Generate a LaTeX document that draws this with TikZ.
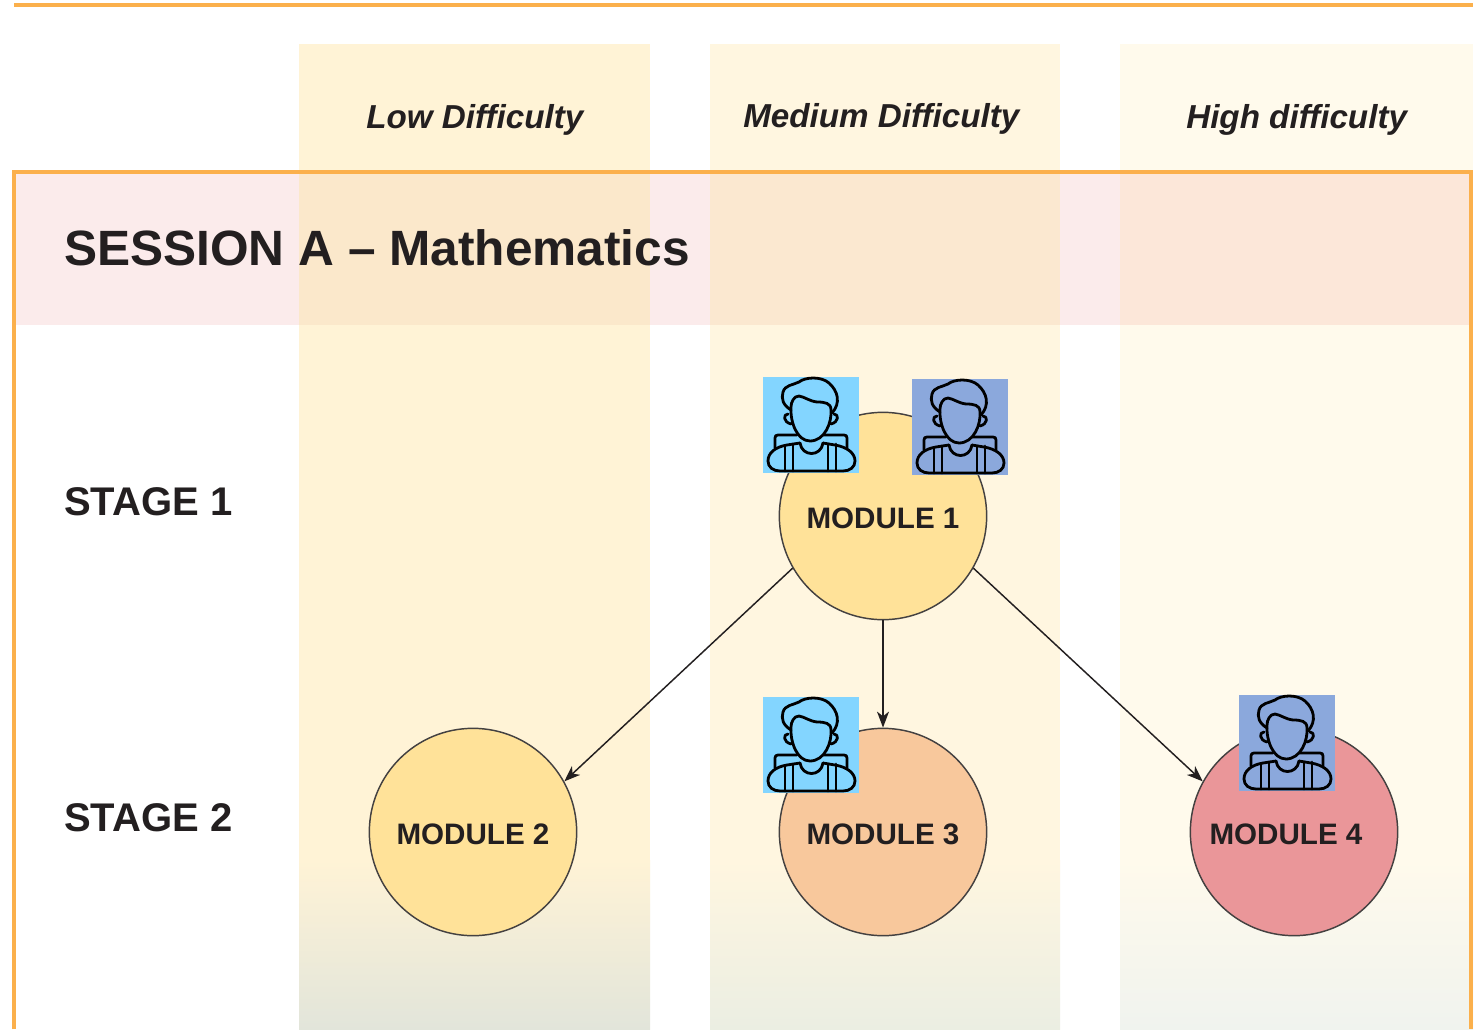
\documentclass[tikz,border=0pt]{standalone}
\usepackage{fontspec}
\setmainfont{Liberation Sans}
\usetikzlibrary{arrows.meta}
\definecolor{ink}{HTML}{231F20}
\definecolor{framec}{HTML}{FBB04C}
\definecolor{bandc}{HTML}{FBEBEB}
\definecolor{colA}{HTML}{FFF3D6}
\definecolor{colB}{HTML}{FFF6E0}
\definecolor{colC}{HTML}{FFFAEC}
\definecolor{endA}{HTML}{E2E5DA}
\definecolor{endB}{HTML}{EBEEE2}
\definecolor{endC}{HTML}{F0F3EE}
\definecolor{ovA}{HTML}{FBE8CB}
\definecolor{ovB}{HTML}{FBE8D0}
\definecolor{ovC}{HTML}{FCE7D9}
\definecolor{iconA}{HTML}{83D5FF}
\definecolor{iconB}{HTML}{8BA8DC}
\definecolor{modY}{HTML}{FFE299}
\definecolor{modO}{HTML}{F8C89C}
\definecolor{modR}{HTML}{EA9699}
\tikzset{
  x=0.75pt,y=-0.75pt,
  modulec/.style={circle,draw=ink!85,line width=1.1pt,minimum size=155.5pt,inner sep=0pt},
  lbl/.style={anchor=base west,inner sep=0pt,text=ink,font=\bfseries},
  ctr/.style={anchor=base,inner sep=0pt,text=ink,font=\bfseries\fontsize{22.2pt}{24pt}\selectfont},
  head/.style={anchor=base west,inner sep=0pt,text=ink,font=\bfseries\itshape\fontsize{24.9pt}{28pt}\selectfont},
  stagel/.style={lbl,font=\bfseries\fontsize{30pt}{32pt}\selectfont},
  conn/.style={draw=ink,line width=1.1pt,-{Stealth[length=12pt,width=9pt,inset=3.5pt]}},
  iconline/.style={draw=black,line width=2.1pt,line cap=round,line join=round},
  pics/person/.style={code={
    \fill[#1] (0,0) rectangle (96,96);
    % hair
    \draw[iconline] (28,33) .. controls (20,28) and (18,22) .. (20,15) .. controls (22,8) and (30,8) .. (36,5)
       .. controls (42,0) and (58,-1) .. (66,6) .. controls (75,14) and (78,26) .. (69,36);
    % hairline and face
    \draw[iconline] (28,30) .. controls (28,25) and (31,19) .. (36,19) .. controls (42,20) and (46,24) .. (54,25)
       .. controls (62,25) and (68,26) .. (68,33) .. controls (69,45) and (62,64) .. (47,64)
       .. controls (34,64) and (27,45) .. (28,30) -- cycle;
    % ears
    \draw[iconline] (25,37) .. controls (20,37) and (20,45) .. (28,47);
    \draw[iconline] (71,37) .. controls (76,37) and (76,45) .. (68,47);
    % backpack
    \draw[iconline] (12,71) -- (12,61) .. controls (12,59) and (13,58) .. (15,58) -- (34,58);
    \draw[iconline] (84,71) -- (84,61) .. controls (84,59) and (83,58) .. (81,58) -- (61,58);
    % body
    \draw[iconline] (37,66) -- (24,68) .. controls (12,70) and (5,76) .. (5,84)
       .. controls (5,90) and (10,94) .. (17,94) -- (80,94)
       .. controls (87,94) and (92,90) .. (92,84) .. controls (92,76) and (84,70) .. (72,68) -- (60,66);
    % neck
    \draw[iconline] (37,66) .. controls (39,80) and (58,80) .. (60,66);
    % straps
    \draw[iconline] (22,69) -- (22,94) (30,67) -- (30,94) (65,67) -- (65,94) (73,67) -- (73,94);
  }}
}
\begin{document}
\begin{tikzpicture}
\useasboundingbox (0,0) rectangle (1478,1029);
\fill[white] (0,0) rectangle (1478,1029);
% band
\fill[bandc] (14,172) rectangle (1473,325);
% columns
\fill[colA] (299,44) rectangle (650,860);
\shade[top color=colA,bottom color=endA] (299,860) rectangle (650,1029);
\fill[colB] (710,44) rectangle (1060,860);
\shade[top color=colB,bottom color=endB] (710,860) rectangle (1060,1029);
\fill[colC] (1120,44) rectangle (1473,860);
\shade[top color=colC,bottom color=endC] (1120,860) rectangle (1473,1029);
% overlaps
\fill[ovA] (299,172) rectangle (650,325);
\fill[ovB] (710,172) rectangle (1060,325);
\fill[ovC] (1120,172) rectangle (1473,325);
% frame
\draw[framec,line width=2.6pt] (14,5) -- (1473,5);
\draw[framec,line width=2.6pt] (14,1029) -- (14,172) -- (1471,172) -- (1471,1029);
% headings
\node[head] (h1) at (366,128) {Low Difficulty};
\node[head] (h2) at (743,127) {Medium Difficulty};
\node[head] (h3) at (1186,128) {High difficulty};
\node[lbl,font=\bfseries\fontsize{37.2pt}{40pt}\selectfont] (title) at (64,265) {SESSION A – Mathematics};
\node[stagel] (s1) at (64,515) {STAGE 1};
\node[stagel] (s2) at (64,831) {STAGE 2};
% modules
\node[modulec,fill=modY] (m1) at (883,516) {};
\node[modulec,fill=modY] (m2) at (473,832) {};
\node[modulec,fill=modO] (m3) at (883,832) {};
\node[modulec,fill=modR] (m4) at (1294,832) {};
\node[ctr] (t1) at (883,528) {MODULE 1};
\node[ctr] (t2) at (473,844) {MODULE 2};
\node[ctr] (t3) at (883,844) {MODULE 3};
\node[ctr] (t4) at (1286,844) {MODULE 4};
% connectors
\draw[conn] (m1.210) -- (m2.29);
\draw[conn] (m1) -- (m3);
\draw[conn] (m1.330) -- (m4.151);
% students
\pic at (763,377) {person=iconA};
\pic at (912,379) {person=iconB};
\pic at (763,697) {person=iconA};
\pic at (1239,695) {person=iconB};
\end{tikzpicture}
\end{document}
